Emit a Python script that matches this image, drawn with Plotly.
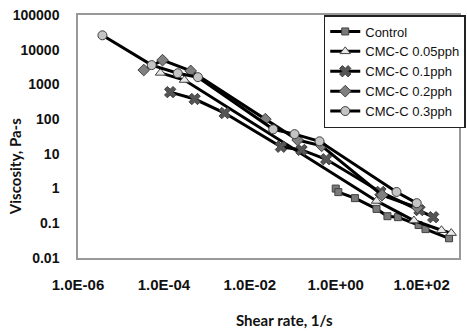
import plotly.graph_objects as go

# Data (shear rate 1/s, viscosity Pa-s)
control_x = [1.0, 1.15, 2.8, 8.9, 16, 28, 85, 123, 435]
control_y = [1.0, 0.79, 0.53, 0.26, 0.16, 0.15, 0.089, 0.068, 0.037]

c005_x = [8.3e-5, 3.0e-4, 8.9, 66, 290, 490]
c005_y = [2150, 1340, 0.44, 0.12, 0.063, 0.052]

c01_x = [1.4e-4, 5.2e-4, 2.6e-3, 0.053, 0.16, 0.6, 11, 89, 186]
c01_y = [600, 380, 150, 16, 13, 7, 0.8, 0.24, 0.15]

c02_x = [3.4e-5, 9.3e-5, 4.2e-4, 0.023, 0.13, 0.47, 12, 80]
c02_y = [2600, 5000, 2450, 100, 25, 17, 0.65, 0.28]

c03_x = [3.7e-6, 5.2e-5, 2.1e-4, 6.2e-4, 0.035, 0.11, 0.42, 26, 77]
c03_y = [26000, 3600, 2100, 1620, 51, 37, 23, 0.8, 0.38]

names = ["Control", "CMC-C 0.05pph", "CMC-C 0.1pph", "CMC-C 0.2pph", "CMC-C 0.3pph"]
xs = [control_x, c005_x, c01_x, c02_x, c03_x]
ys = [control_y, c005_y, c01_y, c02_y, c03_y]
symbols = ["square", "triangle-up", "x", "diamond", "circle"]
fills = ["#7a7a7a", "#e8e8e8", "#555555", "#808080", "#c4c4c4"]
sizes = [7, 9, 10, 9, 9]

fig = go.Figure()
for n, x, y, s, f, sz in zip(names, xs, ys, symbols, fills, sizes):
    fig.add_trace(go.Scatter(
        x=x, y=y, name=n, mode="lines+markers",
        line=dict(color="#000000", width=3),
        marker=dict(symbol=s, color=f, size=sz, line=dict(color="#404040", width=1)),
    ))

fig.update_xaxes(
    type="log", range=[-6, 2.87],
    tickvals=[1e-6, 1e-4, 1e-2, 1, 1e2],
    ticktext=["1.0E-06", "1.0E-04", "1.0E-02", "1.0E+00", "1.0E+02"],
    tickfont=dict(family="Liberation Sans", size=15, color="#111111", weight="bold"),
    showgrid=False, zeroline=False,
    showline=True, linecolor="#999999", linewidth=1.5, mirror=True,
    ticks="", ticklabelstandoff=12,
)
fig.update_yaxes(
    type="log", range=[-2, 5],
    tickvals=[0.01, 0.1, 1, 10, 100, 1000, 10000, 100000],
    ticktext=["0.01", "0.1", "1", "10", "100", "1000", "10000", "100000"],
    tickfont=dict(family="Liberation Sans", size=14, color="#111111", weight="bold"),
    showgrid=False, zeroline=False,
    showline=True, linecolor="#999999", linewidth=1.5, mirror=True,
    ticks="", ticklabelstandoff=14,
)

fig.update_layout(
    width=467, height=331,
    margin=dict(l=78, r=1, t=15, b=73),
    paper_bgcolor="white", plot_bgcolor="white",
    showlegend=True,
    legend=dict(
        x=0.645, y=1.0, xanchor="left", yanchor="top",
        bgcolor="white", bordercolor="#222222", borderwidth=1.5,
        font=dict(family="Liberation Sans", size=13, color="#111111"),
        tracegroupgap=0, itemsizing="trace",
    ),
    annotations=[
        dict(text="<b>Shear rate, 1/s</b>", xref="paper", yref="paper",
             x=(288 - 78) / 388, y=-0.255, xanchor="center", yanchor="middle",
             showarrow=False, font=dict(family="Lato", size=15, color="#111111")),
        dict(text="<b>Viscosity, Pa-s</b>", xref="paper", yref="paper",
             x=-0.165, y=(258 - 167) / 243, xanchor="center", yanchor="middle",
             textangle=-90, showarrow=False,
             font=dict(family="Lato", size=15, color="#111111")),
    ],
)

fig.write_html("out.html")
